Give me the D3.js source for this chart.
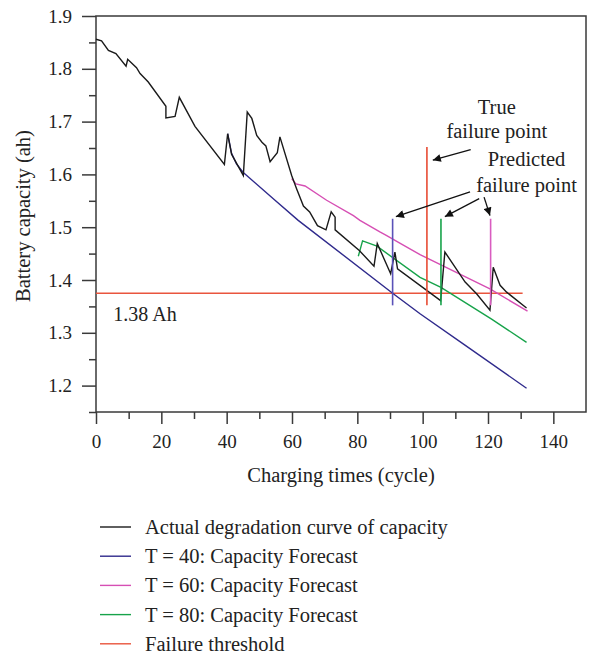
<!DOCTYPE html>
<html>
<head>
<meta charset="utf-8">
<script src="https://cdn.jsdelivr.net/npm/d3@7"></script>
<style>
  body { margin: 0; background: #fff; }
  text { font-family: "Liberation Serif", "DejaVu Serif", serif; fill: #222; }
</style>
</head>
<body>
<div id="chart"></div>
<script>
// actual degradation curve [cycle, capacity]
var actualCurve = [
  [0, 1.856], [1.7, 1.853], [3.8, 1.835], [6.1, 1.829], [9.2, 1.805], [9.7, 1.818],
  [12.4, 1.802], [13.5, 1.791], [16, 1.775], [21.4, 1.729], [21.4, 1.707], [24.2, 1.71],
  [25.5, 1.746], [30.3, 1.691], [39.3, 1.619], [40.3, 1.677], [41.5, 1.638], [45.1, 1.598],
  [46.3, 1.718], [47.7, 1.706], [49.2, 1.674], [50.8, 1.661], [52, 1.654], [53.3, 1.624],
  [55.5, 1.641], [56.3, 1.671], [59.9, 1.598], [61.4, 1.573], [63.5, 1.540], [65.4, 1.529],
  [67.8, 1.503], [70.4, 1.495], [72, 1.529], [73.2, 1.519], [73.2, 1.495], [80.6, 1.456],
  [85.1, 1.426], [86.1, 1.469], [90.2, 1.412], [91.5, 1.453], [92.3, 1.421], [105.5, 1.361],
  [106.8, 1.453], [113, 1.396], [116.5, 1.374], [120.6, 1.343], [121.6, 1.424], [123.7, 1.390],
  [125.7, 1.377], [131.8, 1.347]
];

var forecast40 = [
  [40.3, 1.677], [41.5, 1.640], [43, 1.620], [45, 1.604], [54.8, 1.551], [61.9, 1.513],
  [91, 1.374], [99.2, 1.336], [112.4, 1.279], [131.8, 1.195]
];

var forecast60 = [
  [59.9, 1.592], [61.2, 1.582], [64, 1.578], [70.6, 1.551], [78.8, 1.522], [80.8, 1.513],
  [86.9, 1.491], [89, 1.484], [93, 1.470], [99.2, 1.448], [120.6, 1.383], [132.1, 1.341]
];

var forecast80 = [
  [80.3, 1.445], [81.6, 1.474], [86, 1.464], [99.2, 1.405], [105.6, 1.386], [121.1, 1.326],
  [131.8, 1.282]
];

var thresholdValue = 1.375;
var thresholdRange = [0, 130.6];

// vertical failure markers: cycle, bottom, top
var failureMarkers = [
  { name: 'T40', x: 90.8, y0: 1.352, y1: 1.516 },
  { name: 'true', x: 101.3, y0: 1.352, y1: 1.652 },
  { name: 'T80', x: 105.6, y0: 1.352, y1: 1.516 },
  { name: 'T60', x: 120.8, y0: 1.352, y1: 1.516 }
];

// arrows [fromX, fromY, toX, toY] in data units
var arrows = [
  [114.7, 1.647, 103.1, 1.627],
  [114.5, 1.567, 91.8, 1.520],
  [117.3, 1.554, 106.8, 1.520],
  [118.8, 1.557, 120.6, 1.522]
];

var noteLabels = [
  { text: 'True', x: 122.7, y: 1.715 },
  { text: 'failure point', x: 122.7, y: 1.668 },
  { text: 'Predicted', x: 131.8, y: 1.615 },
  { text: 'failure point', x: 131.8, y: 1.567 }
];

var xTicks = [0, 20, 40, 60, 80, 100, 120, 140];
var xMinor = [10, 30, 50, 70, 90, 110, 130];
var yTicks = [1.2, 1.3, 1.4, 1.5, 1.6, 1.7, 1.8, 1.9];
var yMinor = [1.15, 1.25, 1.35, 1.45, 1.55, 1.65, 1.75, 1.85];

var legendNames = [
  'Actual degradation curve of capacity',
  'T = 40: Capacity Forecast',
  'T = 60: Capacity Forecast',
  'T = 80: Capacity Forecast',
  'Failure threshold'
];

var colors = {
  actual: '#1a1a1a',
  t40: '#2f2a8c',
  t60: '#d64fb4',
  t80: '#17a34a',
  threshold: '#e9553d'
};
var markerColors = { T40: '#5a52b8', true: '#e84b33', T80: '#17a34a', T60: '#d95cc0' };

///////////////////////////////////////

var width = 594, height = 654;
var plot = { left: 96, right: 586, top: 16, bottom: 412 };

var svg = d3.select('#chart')
  .append('svg')
  .attr('width', width)
  .attr('height', height);

var x = d3.scaleLinear().domain([0, 150]).range([plot.left, plot.right]);
var y = d3.scaleLinear().domain([1.15, 1.9]).range([plot.bottom, plot.top]);

var axisColor = '#3a3a3a';

// minor ticks first
svg.append('g')
  .attr('transform', 'translate(0,' + plot.bottom + ')')
  .call(d3.axisBottom(x).tickValues(xMinor).tickSize(7).tickFormat(''))
  .call(g => g.select('.domain').remove());

svg.append('g')
  .attr('transform', 'translate(' + plot.left + ',0)')
  .call(d3.axisLeft(y).tickValues(yMinor).tickSize(7).tickFormat(''))
  .call(g => g.select('.domain').remove());

var gx = svg.append('g')
  .attr('transform', 'translate(0,' + plot.bottom + ')')
  .call(d3.axisBottom(x).tickValues(xTicks).tickSize(12).tickPadding(11).tickFormat(d3.format('d')));
gx.select('.domain').remove();

var gy = svg.append('g')
  .attr('transform', 'translate(' + plot.left + ',0)')
  .call(d3.axisLeft(y).tickValues(yTicks).tickSize(14).tickPadding(10).tickFormat(d3.format('.1f')));
gy.select('.domain').remove();

svg.selectAll('g').attr('font-family', null);
svg.selectAll('.tick line').attr('stroke', axisColor).attr('stroke-width', 1.5);
svg.selectAll('.tick text')
  .style('font-family', '"Liberation Serif", serif')
  .style('font-size', '19px')
  .attr('fill', '#222');

// frame
svg.append('rect')
  .attr('x', plot.left)
  .attr('y', plot.top)
  .attr('width', plot.right - plot.left)
  .attr('height', plot.bottom - plot.top)
  .attr('fill', 'none')
  .attr('stroke', axisColor)
  .attr('stroke-width', 1.5);

// axis titles
svg.append('text')
  .attr('x', (plot.left + plot.right) / 2)
  .attr('y', 482)
  .attr('text-anchor', 'middle')
  .style('font-size', '20.5px')
  .text('Charging times (cycle)');

svg.append('text')
  .attr('transform', 'translate(30,' + 216 + ') rotate(-90)')
  .attr('text-anchor', 'middle')
  .style('font-size', '20.5px')
  .text('Battery capacity (ah)');

///////////////////////////////////////

var line = d3.line()
  .x((d) => x(d[0]))
  .y((d) => y(d[1]));

// threshold
svg.append('line')
  .attr('x1', x(thresholdRange[0]))
  .attr('x2', x(thresholdRange[1]))
  .attr('y1', y(thresholdValue))
  .attr('y2', y(thresholdValue))
  .attr('stroke', colors.threshold)
  .attr('stroke-width', 1.6);

svg.append('text')
  .attr('x', x(5.3))
  .attr('y', y(1.323))
  .style('font-size', '20px')
  .text('1.38 Ah');

var series = [
  { data: forecast40, color: colors.t40 },
  { data: forecast60, color: colors.t60 },
  { data: forecast80, color: colors.t80 },
  { data: actualCurve, color: colors.actual }
];

svg.selectAll('.series')
  .data(series)
  .enter().append('path')
  .attr('class', 'series')
  .attr('d', (d) => line(d.data))
  .attr('fill', 'none')
  .attr('stroke', (d) => d.color)
  .attr('stroke-width', 1.4)
  .attr('stroke-linejoin', 'miter');

svg.selectAll('.marker')
  .data(failureMarkers)
  .enter().append('line')
  .attr('class', 'marker')
  .attr('x1', (d) => x(d.x))
  .attr('x2', (d) => x(d.x))
  .attr('y1', (d) => y(d.y0))
  .attr('y2', (d) => y(d.y1))
  .attr('stroke', (d) => markerColors[d.name])
  .attr('stroke-width', 1.6);

// arrows
svg.append('defs').append('marker')
  .attr('id', 'arrowhead')
  .attr('viewBox', '0 0 10 10')
  .attr('refX', 10)
  .attr('refY', 5)
  .attr('markerWidth', 11)
  .attr('markerHeight', 8)
  .attr('markerUnits', 'userSpaceOnUse')
  .attr('orient', 'auto')
  .append('path')
  .attr('d', 'M0,0 L10,5 L0,10 Z')
  .attr('fill', '#111');

svg.selectAll('.arrow')
  .data(arrows)
  .enter().append('line')
  .attr('class', 'arrow')
  .attr('x1', (d) => x(d[0]))
  .attr('y1', (d) => y(d[1]))
  .attr('x2', (d) => x(d[2]))
  .attr('y2', (d) => y(d[3]))
  .attr('stroke', '#111')
  .attr('stroke-width', 1.3)
  .attr('marker-end', 'url(#arrowhead)');

svg.selectAll('.note')
  .data(noteLabels)
  .enter().append('text')
  .attr('class', 'note')
  .attr('x', (d) => x(d.x))
  .attr('y', (d) => y(d.y))
  .attr('text-anchor', 'middle')
  .style('font-size', '20.5px')
  .text((d) => d.text);

///////////////////////////////////////

var legendColors = [colors.actual, colors.t40, colors.t60, colors.t80, colors.threshold];

var legend = svg.append('g')
  .attr('transform', 'translate(100,527)');

var rows = legend.selectAll('.legend-row')
  .data(legendNames)
  .enter().append('g')
  .attr('class', 'legend-row')
  .attr('transform', (d, i) => 'translate(0,' + (i * 29.2) + ')');

rows.append('line')
  .attr('x1', 0)
  .attr('x2', 31)
  .attr('stroke', (d, i) => legendColors[i])
  .attr('stroke-width', 1.4);

rows.append('text')
  .attr('x', 45)
  .attr('y', 7)
  .style('font-size', '20.5px')
  .text((d) => d);
</script>
</body>
</html>
